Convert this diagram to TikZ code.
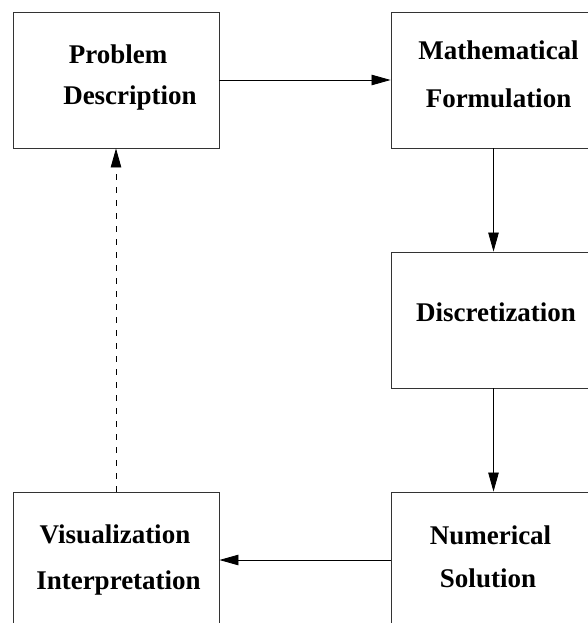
\documentclass[tikz,border=0pt]{standalone}
\usepackage{fontspec}
\setmainfont{Liberation Serif}
\usetikzlibrary{arrows.meta}
\begin{document}
\begin{tikzpicture}[x=1pt,y=-1pt,
  box/.style={draw=black!80,line width=0.9pt,minimum width=206pt,minimum height=136pt,inner sep=0pt,fill=none},
  lbl/.style={anchor=base,inner sep=0pt,font=\fontsize{27}{32}\selectfont\bfseries},
  conn/.style={line width=0.8pt,-{Triangle[length=19pt,width=10.5pt]}}]
\path[use as bounding box,clip] (0,0) rectangle (588,623);
\fill[white] (0,0) rectangle (588,623);
% boxes
\node[box] (pd) at (116,80) {};
\node[box] (mf) at (494,80) {};
\node[box] (di) at (494,320) {};
\node[box] (ns) at (494,560) {};
\node[box] (vi) at (116,560) {};
% labels
\node[lbl] (pd1) at (118,64) {Problem};
\node[lbl] (pd2) at (130,105) {Description};
\node[lbl] (mf1) at (498.5,60) {Mathematical};
\node[lbl] (mf2) at (498.5,107) {Formulation};
\node[lbl] (di1) at (496,321) {Discretization};
\node[lbl] (ns1) at (490.5,544) {Numerical};
\node[lbl] (ns2) at (488,587) {Solution};
\node[lbl] (vi1) at (115,543) {Visualization};
\node[lbl] (vi2) at (118.5,589) {Interpretation};
% connectors
\draw[conn] (pd.east) -- (mf.west);
\draw[conn] ([xshift=-0.5pt]mf.south) -- ([xshift=-0.5pt]di.north);
\draw[conn] ([xshift=-0.5pt]di.south) -- ([xshift=-0.5pt]ns.north);
\draw[conn] (ns.west) -- (vi.east);
\draw[conn,dash pattern=on 6pt off 7pt] (vi.north) -- (pd.south);
\end{tikzpicture}
\end{document}
